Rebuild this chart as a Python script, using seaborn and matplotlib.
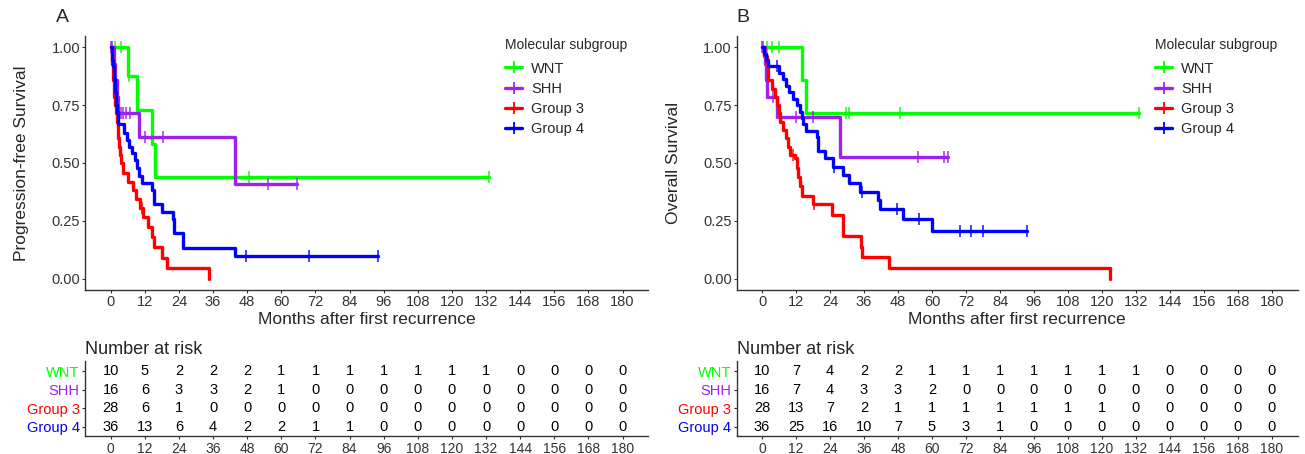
import numpy as np
import pandas as pd
import matplotlib
matplotlib.use('Agg')
import matplotlib.pyplot as plt
from matplotlib.lines import Line2D
import seaborn as sns

# --- data ---
groups = ['WNT', 'SHH', 'Group 3', 'Group 4']
colors = {'WNT': '#00FF00', 'SHH': '#A020F0', 'Group 3': '#FF0000', 'Group 4': '#0000FF'}
months = [0, 12, 24, 36, 48, 60, 72, 84, 96, 108, 120, 132, 144, 156, 168, 180]

# Panel A: progression-free survival (event times / survival after event)
pfs_wnt_t = [6.2, 9.1, 14.4, 15.6]
pfs_wnt_s = [0.875, 0.729, 0.583, 0.438]
pfs_wnt_cens = [1.5, 3.5, 6.6, 48.5, 133.0]

pfs_shh_t = [1.0, 1.6, 2.1, 2.6, 10.1, 43.8]
pfs_shh_s = [0.929, 0.857, 0.786, 0.714, 0.614, 0.409]
pfs_shh_cens = [0.1, 0.6, 3.5, 4.5, 5.5, 6.7, 12.0, 18.4, 55.2, 65.4]

pfs_g3_t = [0.3, 0.5, 0.7, 0.9, 1.1, 1.3, 1.5, 1.8, 2.1, 2.4, 2.7, 3.0, 3.3, 3.7, 4.2,
            6.2, 7.9, 8.8, 10.3, 11.2, 13.0, 14.4, 15.3, 17.9, 19.7, 34.7]
pfs_g3_s = [0.964, 0.929, 0.893, 0.857, 0.821, 0.786, 0.750, 0.714, 0.679, 0.643, 0.607,
            0.571, 0.536, 0.500, 0.456, 0.419, 0.383, 0.343, 0.304, 0.268, 0.222, 0.179,
            0.136, 0.088, 0.046, 0.0]
pfs_g3_cens = [10.9]

pfs_g4_t = [0.4, 0.6, 0.8, 1.0, 1.2, 1.4, 1.6, 1.8, 2.0, 2.2, 2.4, 2.7, 4.7, 5.6, 6.5,
            7.4, 8.5, 9.3, 10.0, 10.9, 14.4, 15.3, 17.9, 21.8, 22.4, 25.5, 43.8]
pfs_g4_s = [0.972, 0.944, 0.917, 0.889, 0.861, 0.833, 0.806, 0.778, 0.750, 0.722, 0.694,
            0.667, 0.629, 0.600, 0.571, 0.542, 0.513, 0.480, 0.445, 0.415, 0.383, 0.323,
            0.290, 0.258, 0.196, 0.131, 0.098]
pfs_g4_cens = [47.6, 69.8, 93.9]

# Panel B: overall survival
os_wnt_t = [14.0, 15.5]
os_wnt_s = [0.857, 0.714]
os_wnt_cens = [1.6, 3.4, 6.1, 29.5, 30.7, 48.7, 133.0]

os_shh_t = [1.1, 1.4, 1.7, 5.3, 27.5]
os_shh_s = [0.929, 0.857, 0.787, 0.698, 0.524]
os_shh_cens = [0.0, 0.5, 4.0, 12.0, 18.1, 55.2, 64.3, 65.8]

os_g3_t = [0.8, 1.6, 2.0, 2.2, 3.4, 4.6, 5.2, 6.0, 6.4, 7.5, 8.5, 9.0, 10.0, 11.6, 12.3,
           12.8, 13.4, 14.0, 18.1, 24.6, 28.5, 34.9, 35.4, 44.9, 122.8]
os_g3_s = [0.964, 0.929, 0.893, 0.857, 0.821, 0.786, 0.750, 0.714, 0.679, 0.643, 0.607,
           0.571, 0.536, 0.520, 0.480, 0.440, 0.400, 0.357, 0.321, 0.275, 0.183, 0.137,
           0.092, 0.046, 0.0]
os_g3_cens = [11.0, 18.5]

os_g4_t = [0.8, 1.5, 2.2, 6.0, 7.3, 8.5, 9.6, 11.0, 12.3, 13.4, 14.0, 14.6, 15.5, 19.3,
           19.6, 19.9, 22.2, 25.2, 28.7, 30.8, 34.6, 41.1, 41.6, 49.9, 59.9]
os_g4_s = [0.972, 0.944, 0.917, 0.889, 0.861, 0.833, 0.806, 0.778, 0.750, 0.722, 0.694,
           0.667, 0.639, 0.611, 0.583, 0.552, 0.520, 0.484, 0.448, 0.412, 0.376, 0.338,
           0.300, 0.259, 0.207]
os_g4_cens = [5.4, 25.5, 35.2, 47.5, 55.5, 69.9, 73.7, 78.1, 93.7]

# Number at risk
pfs_risk_wnt = [10, 5, 2, 2, 2, 1, 1, 1, 1, 1, 1, 1, 0, 0, 0, 0]
pfs_risk_shh = [16, 6, 3, 3, 2, 1, 0, 0, 0, 0, 0, 0, 0, 0, 0, 0]
pfs_risk_g3 = [28, 6, 1, 0, 0, 0, 0, 0, 0, 0, 0, 0, 0, 0, 0, 0]
pfs_risk_g4 = [36, 13, 6, 4, 2, 2, 1, 1, 0, 0, 0, 0, 0, 0, 0, 0]

os_risk_wnt = [10, 7, 4, 2, 2, 1, 1, 1, 1, 1, 1, 1, 0, 0, 0, 0]
os_risk_shh = [16, 7, 4, 3, 3, 2, 0, 0, 0, 0, 0, 0, 0, 0, 0, 0]
os_risk_g3 = [28, 13, 7, 2, 1, 1, 1, 1, 1, 1, 1, 0, 0, 0, 0, 0]
os_risk_g4 = [36, 25, 16, 10, 7, 5, 3, 1, 0, 0, 0, 0, 0, 0, 0, 0]

panels = {
    'A': {
        'ylabel': 'Progression-free Survival',
        'curves': {
            'WNT': (pfs_wnt_t, pfs_wnt_s, pfs_wnt_cens),
            'SHH': (pfs_shh_t, pfs_shh_s, pfs_shh_cens),
            'Group 3': (pfs_g3_t, pfs_g3_s, pfs_g3_cens),
            'Group 4': (pfs_g4_t, pfs_g4_s, pfs_g4_cens),
        },
        'risk': [pfs_risk_wnt, pfs_risk_shh, pfs_risk_g3, pfs_risk_g4],
    },
    'B': {
        'ylabel': 'Overall Survival',
        'curves': {
            'WNT': (os_wnt_t, os_wnt_s, os_wnt_cens),
            'SHH': (os_shh_t, os_shh_s, os_shh_cens),
            'Group 3': (os_g3_t, os_g3_s, os_g3_cens),
            'Group 4': (os_g4_t, os_g4_s, os_g4_cens),
        },
        'risk': [os_risk_wnt, os_risk_shh, os_risk_g3, os_risk_g4],
    },
}


def surv_at(times, surv, t):
    """Step-function lookup of the survival value at time t."""
    idx = np.searchsorted(times, t, side='right') - 1
    return 1.0 if idx < 0 else surv[idx]


def curve_frame(times, surv, cens):
    """Step points: start at (0, 1), then each event, then last censor time."""
    xs = [0.0] + list(times)
    ys = [1.0] + list(surv)
    last = max(cens) if cens else times[-1]
    if last > xs[-1]:
        xs.append(last)
        ys.append(ys[-1])
    return pd.DataFrame({'month': xs, 'surv': ys})


# --- figure ---
sns.set_theme(style='ticks')
plt.rcParams['font.family'] = ['Liberation Sans', 'DejaVu Sans']

W, H = 1305, 454
fig = plt.figure(figsize=(W / 100, H / 100), dpi=100)

def px_axes(left, right, top, bottom):
    return fig.add_axes([left / W, 1 - bottom / H, (right - left) / W, (bottom - top) / H])

# left, right, panel letter x, legend left
layout = {'A': (85.1, 648.2, 62, 505), 'B': (736.5, 1297.5, 743, 1155)}

for key, panel in panels.items():
    left, right, lab_x, leg_x = layout[key]
    ax = px_axes(left, right, 35.7, 290.3)

    for g in groups:
        t, s, c = panel['curves'][g]
        df = curve_frame(t, s, c)
        sns.lineplot(data=df, x='month', y='surv', ax=ax, color=colors[g], lw=2.4,
                     drawstyle='steps-post', estimator=None, sort=False)
        cy = [surv_at(t, s, ci) for ci in c]
        ax.plot(c, cy, ls='none', marker='|', ms=8, mew=1.3, color=colors[g], alpha=0.8)

    ax.set_xlim(-9, 189)
    ax.set_ylim(-0.05, 1.05)
    ax.set_xticks(months)
    ax.set_yticks([0, 0.25, 0.5, 0.75, 1.0])
    ax.set_yticklabels(['0.00', '0.25', '0.50', '0.75', '1.00'])
    ax.tick_params(labelsize=10.5, length=2.5, width=0.8, colors='#333333', pad=1)
    ax.set_xlabel('Months after first recurrence', fontsize=12.5, labelpad=2)
    ax.set_ylabel(panel['ylabel'], fontsize=12.5, labelpad=16)
    for sp in ['left', 'bottom']:
        ax.spines[sp].set_linewidth(1.0)
        ax.spines[sp].set_color('#333333')
    sns.despine(ax=ax)

    handles = [Line2D([0], [0], color=colors[g], lw=2.4, marker='|', ms=8, mew=1.3)
               for g in groups]
    leg = ax.legend(handles, groups, title='Molecular subgroup', loc='upper left',
                    bbox_to_anchor=((leg_x - 13) / W, 1 - 25 / H),
                    bbox_transform=fig.transFigure, frameon=False, fontsize=10.5,
                    title_fontsize=10, handlelength=1.15, handletextpad=0.65,
                    labelspacing=0.42, alignment='left')
    # a bit more room between the legend title and its entries
    leg._legend_box.sep = 6.8

    fig.text(lab_x / W, 1 - 18 / H, key, fontsize=14, ha='center', va='center')

    # Number at risk table
    tab = px_axes(left, right, 361, 436)
    for i, row in enumerate(panel['risk']):
        for m, n in zip(months, row):
            tab.text(m, i, str(n), ha='center', va='center', fontsize=10.5, color='black')
    tab.set_xlim(-9, 189)
    tab.set_ylim(3.5, -0.56)
    tab.set_xticks(months)
    tab.set_yticks(range(4))
    tab.set_yticklabels(groups)
    for lbl, g in zip(tab.get_yticklabels(), groups):
        lbl.set_color(colors[g])
    tab.tick_params(labelsize=10.5, length=2.5, width=0.8, pad=1.5)
    tab.tick_params(axis='x', colors='#333333', labelsize=10)
    for sp in ['left', 'bottom']:
        tab.spines[sp].set_linewidth(1.0)
        tab.spines[sp].set_color('#333333')
    sns.despine(ax=tab)
    fig.text(left / W, 1 - 349 / H, 'Number at risk', fontsize=13, ha='left', va='center')

fig.savefig('out.png', dpi=100)
